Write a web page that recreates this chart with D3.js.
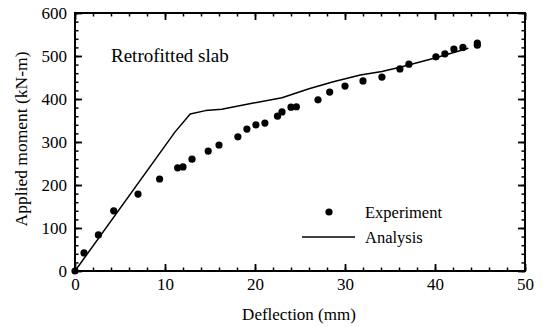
<!DOCTYPE html>
<html>
<head>
<meta charset="utf-8">
<script src="https://cdn.jsdelivr.net/npm/d3@7"></script>
<style>
  html, body { margin: 0; padding: 0; background: #fff; }
  svg { display: block; }
  text { font-family: "Liberation Serif", "Times New Roman", serif; fill: #000; }
</style>
</head>
<body>
<svg id="chart" width="544" height="327"></svg>
<script>
// Measured moment–deflection points (deflection in mm, moment in kN-m)
const expDeflection = [0, 1.0, 2.6, 4.3, 7.0, 9.4, 11.4, 12.0, 13.0, 14.8, 16.0, 18.1, 19.1, 20.1, 21.1,
  22.5, 23.0, 24.0, 24.6, 27.0, 28.3, 30.0, 32.0, 34.1, 36.1, 37.1, 40.1, 41.1, 42.1, 43.1, 44.7, 44.7];
const expMoment = [0, 42, 84, 140, 179, 214, 240, 242, 260, 279, 293, 312, 330, 340, 344,
  360, 370, 381, 382, 398, 416, 430, 442, 451, 470, 481, 498, 505, 516, 520, 530, 525];

// Analytical prediction
const anaDeflection = [0, 11.1, 12.8, 14.5, 16.3, 19.4, 23.0, 26.0, 28.7, 31.7, 34.1, 36.1, 39.8, 43.7];
const anaMoment = [0, 323, 365, 373, 376, 389, 403, 424, 440, 456, 464, 474, 494, 518];

const xMajorTicks = [0, 10, 20, 30, 40, 50];
const yMajorTicks = [0, 100, 200, 300, 400, 500, 600];
const xMinorTicks = d3.range(0, 50.01, 2);
const yMinorTicks = d3.range(0, 600.01, 20);

const chartTitle = "Retrofitted slab";
const xTitle = "Deflection (mm)";
const yTitle = "Applied moment (kN-m)";
const legendLabels = ["Experiment", "Analysis"];

const W = 544, H = 327;
const margin = { left: 75, right: 19, top: 13, bottom: 56 };
const iw = W - margin.left - margin.right;
const ih = H - margin.top - margin.bottom;

const svg = d3.select("#chart");
const g = svg.append("g").attr("transform", `translate(${margin.left},${margin.top})`);

const x = d3.scaleLinear().domain([0, 50]).range([0, iw]);
const y = d3.scaleLinear().domain([0, 600]).range([ih, 0]);

const tickFont = 17;

function styleAxis(sel, width) {
  sel.select(".domain").remove();
  sel.selectAll(".tick line").attr("stroke", "#000").attr("stroke-width", width);
}

// minor ticks (all four sides, pointing inward)
g.append("g").attr("transform", `translate(0,${ih})`)
  .call(d3.axisBottom(x).tickValues(xMinorTicks).tickSize(-3.5).tickFormat(""))
  .call(s => styleAxis(s, 1.5));
g.append("g")
  .call(d3.axisTop(x).tickValues(xMinorTicks).tickSize(-3.5).tickFormat(""))
  .call(s => styleAxis(s, 1.5));
g.append("g")
  .call(d3.axisLeft(y).tickValues(yMinorTicks).tickSize(-3.5).tickFormat(""))
  .call(s => styleAxis(s, 1.5));
g.append("g").attr("transform", `translate(${iw},0)`)
  .call(d3.axisRight(y).tickValues(yMinorTicks).tickSize(-3.5).tickFormat(""))
  .call(s => styleAxis(s, 1.5));

// major ticks with labels
const xAxis = g.append("g").attr("transform", `translate(0,${ih})`)
  .call(d3.axisBottom(x).tickValues(xMajorTicks).tickSize(-7).tickPadding(7).tickFormat(d3.format("d")))
  .call(s => styleAxis(s, 1.8));
xAxis.selectAll("text").attr("font-size", tickFont);

const yAxis = g.append("g")
  .call(d3.axisLeft(y).tickValues(yMajorTicks).tickSize(-7).tickPadding(8).tickFormat(d3.format("d")))
  .call(s => styleAxis(s, 1.8));
yAxis.selectAll("text").attr("font-size", tickFont);

g.append("g")
  .call(d3.axisTop(x).tickValues(xMajorTicks).tickSize(-7).tickFormat(""))
  .call(s => styleAxis(s, 1.8));
g.append("g").attr("transform", `translate(${iw},0)`)
  .call(d3.axisRight(y).tickValues(yMajorTicks).tickSize(-7).tickFormat(""))
  .call(s => styleAxis(s, 1.8));

// frame
g.append("rect").attr("x", 0).attr("y", 0).attr("width", iw).attr("height", ih)
  .attr("fill", "none").attr("stroke", "#000").attr("stroke-width", 2);

// analysis curve
const line = d3.line().x(d => x(d[0])).y(d => y(d[1]));
g.append("path")
  .datum(d3.zip(anaDeflection, anaMoment))
  .attr("d", line)
  .attr("fill", "none").attr("stroke", "#000").attr("stroke-width", 1.5)
  .attr("stroke-linejoin", "round");

// experimental points
g.append("g").selectAll("circle")
  .data(d3.zip(expDeflection, expMoment))
  .join("circle")
  .attr("cx", d => x(d[0])).attr("cy", d => y(d[1])).attr("r", 3.6)
  .attr("fill", "#000");

// annotation
g.append("text").attr("x", 36).attr("y", 49).attr("font-size", 19).text(chartTitle);

// legend
const lg = g.append("g").attr("transform", "translate(227,199)");
lg.append("circle").attr("cx", 27).attr("cy", 0).attr("r", 3.6).attr("fill", "#000");
lg.append("text").attr("x", 63).attr("y", 6).attr("font-size", 16.5).text(legendLabels[0]);
lg.append("line").attr("x1", 0).attr("x2", 53).attr("y1", 25).attr("y2", 25)
  .attr("stroke", "#000").attr("stroke-width", 1.5);
lg.append("text").attr("x", 63).attr("y", 31).attr("font-size", 16.5).text(legendLabels[1]);

// axis titles
svg.append("text").attr("x", margin.left + iw / 2 - 1).attr("y", 320)
  .attr("text-anchor", "middle").attr("font-size", 17).text(xTitle);
svg.append("text")
  .attr("transform", `translate(27,${margin.top + ih / 2 - 3}) rotate(-90)`)
  .attr("text-anchor", "middle").attr("font-size", 17.5).text(yTitle);
</script>
</body>
</html>
